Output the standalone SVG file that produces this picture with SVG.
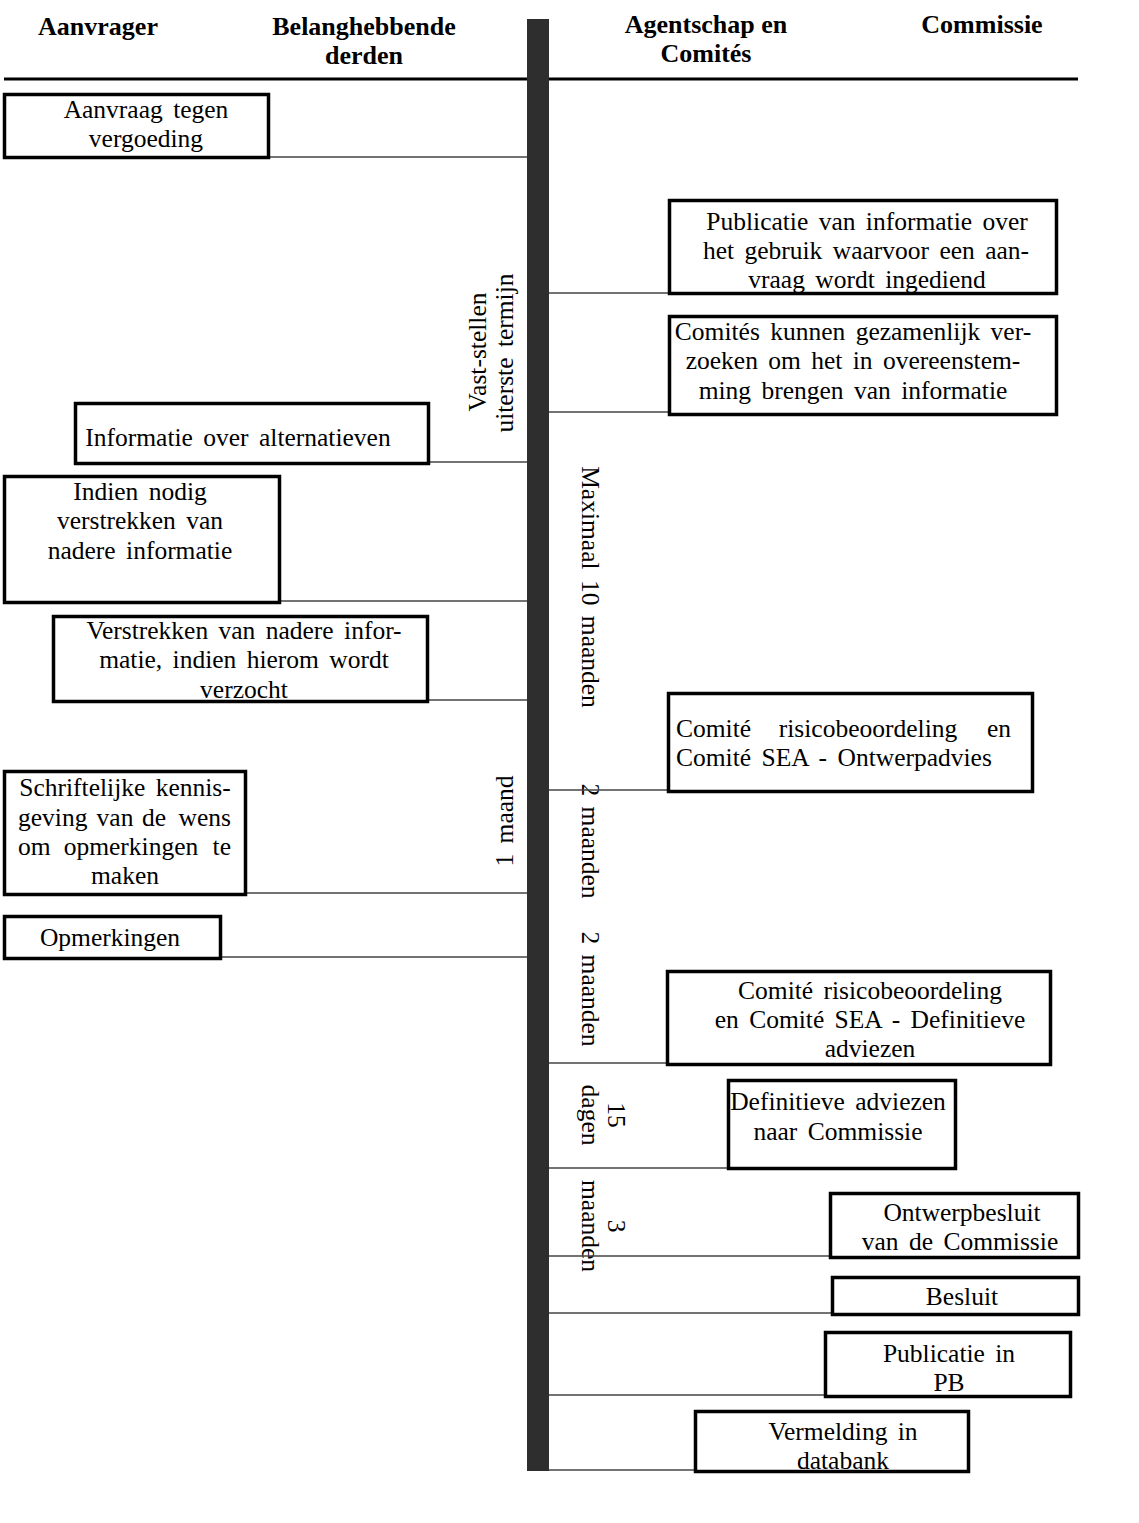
<svg xmlns="http://www.w3.org/2000/svg" width="1139" height="1523" viewBox="0 0 1139 1523">
<style>
.box{fill:#fff;stroke:#000;stroke-width:3.5}
.t{font-family:"Liberation Serif","Times New Roman",serif;font-size:25.5px;fill:#000;text-anchor:middle;word-spacing:4px}
.l{text-anchor:start}
.r{text-anchor:end}
.h{font-family:"Liberation Serif","Times New Roman",serif;font-size:26px;font-weight:bold;fill:#000;text-anchor:middle}
.c{stroke:#444;stroke-width:1.5;fill:none}
</style>
<rect width="1139" height="1523" fill="#fff"/>
<g id="header">
<text class="h" x="98" y="35">Aanvrager</text>
<text class="h" x="364" y="35">Belanghebbende</text>
<text class="h" x="364" y="64">derden</text>
<text class="h" x="706" y="33">Agentschap en</text>
<text class="h" x="706" y="62">Comités</text>
<text class="h" x="982" y="33">Commissie</text>
<line x1="4" y1="79" x2="1078" y2="79" stroke="#000" stroke-width="3"/>
</g>
<g id="timeline">
<rect x="527" y="19" width="22" height="1452" fill="#2e2e2e"/>
<text class="t" transform="translate(486,352) rotate(-90)">Vast-stellen</text>
<text class="t" transform="translate(513,353) rotate(-90)">uiterste termijn</text>
<text class="t" transform="translate(582,587) rotate(90)">Maximaal 10 maanden</text>
<text class="t" transform="translate(513,821) rotate(-90)">1 maand</text>
<text class="t" transform="translate(582,841) rotate(90)">2 maanden</text>
<text class="t" transform="translate(582,989) rotate(90)">2 maanden</text>
<text class="t" transform="translate(608,1115) rotate(90)">15</text>
<text class="t" transform="translate(582,1115) rotate(90)">dagen</text>
<text class="t" transform="translate(608,1226) rotate(90)">3</text>
<text class="t" transform="translate(582,1226) rotate(90)">maanden</text>
</g>
<g id="connectors">
<line class="c" x1="270" y1="157" x2="527" y2="157"/>
<line class="c" x1="549" y1="293" x2="668" y2="293"/>
<line class="c" x1="549" y1="412" x2="668" y2="412"/>
<line class="c" x1="430" y1="462" x2="527" y2="462"/>
<line class="c" x1="281" y1="601" x2="527" y2="601"/>
<line class="c" x1="429" y1="700" x2="527" y2="700"/>
<line class="c" x1="549" y1="790" x2="667" y2="790"/>
<line class="c" x1="247" y1="893" x2="527" y2="893"/>
<line class="c" x1="222" y1="957" x2="527" y2="957"/>
<line class="c" x1="549" y1="1063" x2="666" y2="1063"/>
<line class="c" x1="549" y1="1168" x2="727" y2="1168"/>
<line class="c" x1="549" y1="1256" x2="829" y2="1256"/>
<line class="c" x1="549" y1="1313" x2="831" y2="1313"/>
<line class="c" x1="549" y1="1395" x2="824" y2="1395"/>
<line class="c" x1="549" y1="1470" x2="694" y2="1470"/>
</g>
<g id="n1">
<rect class="box" x="4.5" y="94.5" width="264" height="63"/>
<text class="t" x="146" y="118">Aanvraag tegen</text>
<text class="t" x="146" y="147">vergoeding</text>
</g>
<g id="n2">
<rect class="box" x="669.5" y="200.5" width="387" height="93"/>
<text class="t" x="867" y="230">Publicatie van informatie over</text>
<text class="t" x="866" y="259">het gebruik waarvoor een aan-</text>
<text class="t" x="867" y="288">vraag wordt ingediend</text>
</g>
<g id="n3">
<rect class="box" x="669.5" y="316.5" width="387" height="98"/>
<text class="t" x="853" y="340">Comités kunnen gezamenlijk ver-</text>
<text class="t" x="853" y="369">zoeken om het in overeenstem-</text>
<text class="t" x="853" y="399">ming brengen van informatie</text>
</g>
<g id="n4">
<rect class="box" x="75.5" y="403.5" width="353" height="60"/>
<text class="t" x="238" y="446">Informatie over alternatieven</text>
</g>
<g id="n5">
<rect class="box" x="4.5" y="476.5" width="275" height="126"/>
<text class="t" x="140" y="500">Indien nodig</text>
<text class="t" x="140" y="529">verstrekken van</text>
<text class="t" x="140" y="559">nadere informatie</text>
</g>
<g id="n6">
<rect class="box" x="53.5" y="616.5" width="374" height="85"/>
<text class="t" x="244" y="639">Verstrekken van nadere infor-</text>
<text class="t" x="244" y="668">matie, indien hierom wordt</text>
<text class="t" x="244" y="698">verzocht</text>
</g>
<g id="n7">
<rect class="box" x="668.5" y="693.5" width="364" height="98"/>
<text class="t l" x="676" y="737">Comité</text>
<text class="t" x="868" y="737">risicobeoordeling</text>
<text class="t r" x="1011" y="737">en</text>
<text class="t l" x="676" y="766">Comité SEA - Ontwerpadvies</text>
</g>
<g id="n8">
<rect class="box" x="4.5" y="771.5" width="241" height="123"/>
<text class="t" x="125" y="796">Schriftelijke kennis-</text>
<text class="t l" x="18" y="826">geving</text>
<text class="t" x="115" y="826">van</text>
<text class="t" x="154" y="826">de</text>
<text class="t r" x="231" y="826">wens</text>
<text class="t l" x="18" y="855">om</text>
<text class="t" x="131" y="855">opmerkingen</text>
<text class="t r" x="231" y="855">te</text>
<text class="t" x="125" y="884">maken</text>
</g>
<g id="n9">
<rect class="box" x="4.5" y="916.5" width="216" height="42"/>
<text class="t" x="110" y="946">Opmerkingen</text>
</g>
<g id="n10">
<rect class="box" x="667.5" y="971.5" width="383" height="93"/>
<text class="t" x="870" y="999">Comité risicobeoordeling</text>
<text class="t" x="870" y="1028">en Comité SEA - Definitieve</text>
<text class="t" x="870" y="1057">adviezen</text>
</g>
<g id="n11">
<rect class="box" x="728.5" y="1080.5" width="227" height="88"/>
<text class="t" x="838" y="1110">Definitieve adviezen</text>
<text class="t" x="838" y="1140">naar Commissie</text>
</g>
<g id="n12">
<rect class="box" x="830.5" y="1193.5" width="248" height="64"/>
<text class="t" x="962" y="1221">Ontwerpbesluit</text>
<text class="t" x="960" y="1250">van de Commissie</text>
</g>
<g id="n13">
<rect class="box" x="832.5" y="1277.5" width="246" height="37"/>
<text class="t" x="962" y="1305">Besluit</text>
</g>
<g id="n14">
<rect class="box" x="825.5" y="1332.5" width="245" height="64"/>
<text class="t" x="949" y="1362">Publicatie in</text>
<text class="t" x="949" y="1391">PB</text>
</g>
<g id="n15">
<rect class="box" x="695.5" y="1411.5" width="273" height="60"/>
<text class="t" x="843" y="1440">Vermelding in</text>
<text class="t" x="843" y="1469">databank</text>
</g>
</svg>
